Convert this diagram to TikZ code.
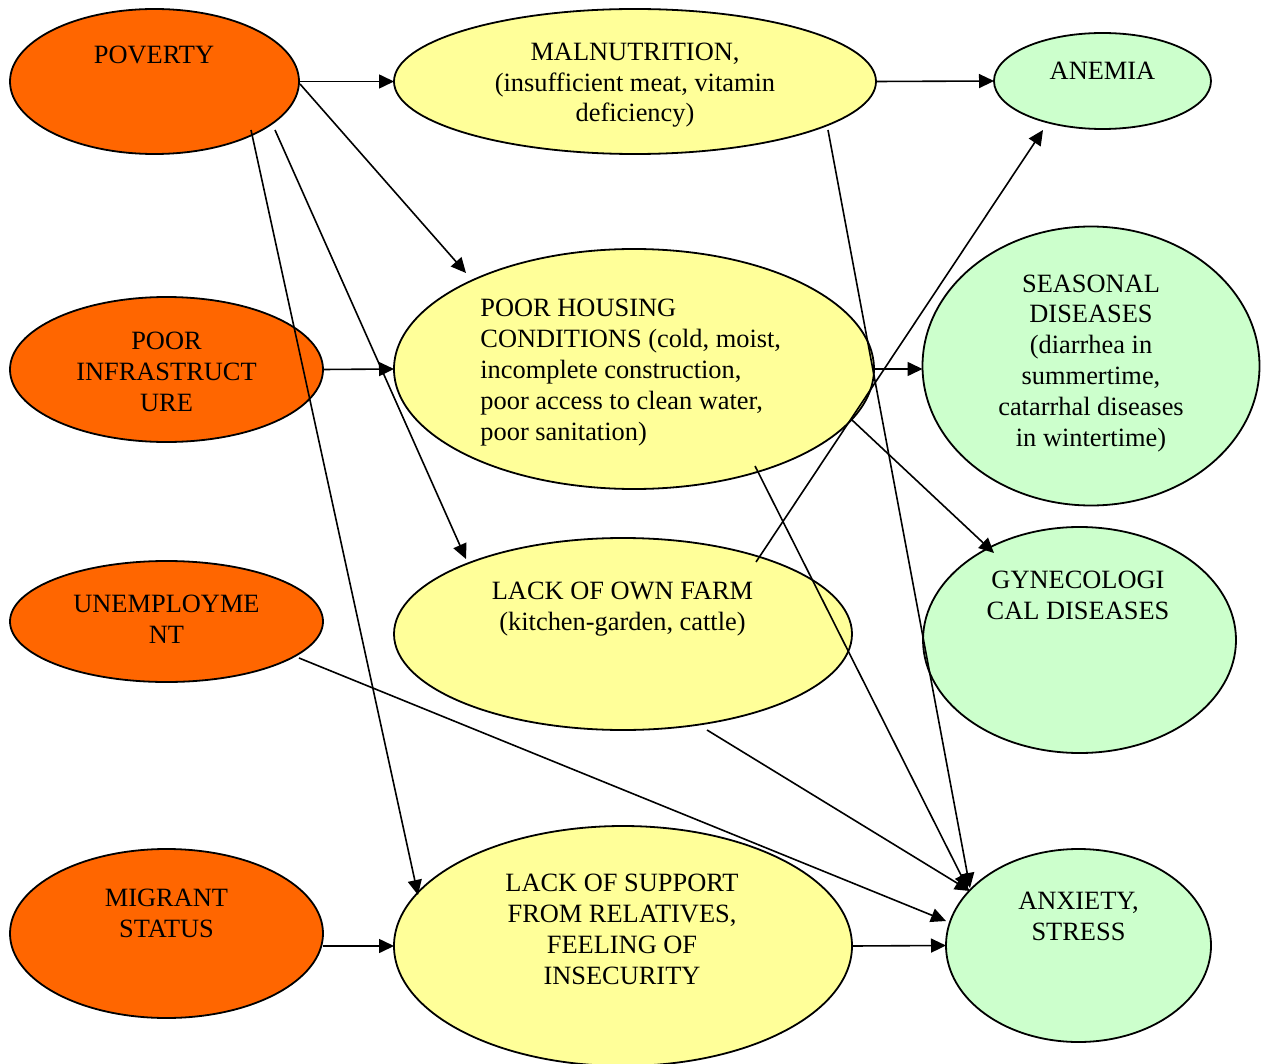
\documentclass[tikz,border=0pt]{standalone}
\usepackage{fontspec}
\setmainfont{Liberation Serif}
\usetikzlibrary{shapes.geometric,arrows.meta,calc}
\definecolor{causeorange}{HTML}{FF6600}
\definecolor{midyellow}{HTML}{FFFF99}
\definecolor{effectgreen}{HTML}{CCFFCC}

\begin{document}
\begin{tikzpicture}[x=0.5pt,y=-0.5pt,
  oval/.style={ellipse,draw=black,line width=0.9pt,inner sep=0pt,outer sep=0pt},
  cause/.style={oval,fill=causeorange},
  factor/.style={oval,fill=midyellow},
  effect/.style={oval,fill=effectgreen},
  lbl/.style={inner sep=0pt,align=center,anchor=base,font=\fontsize{13.2}{15.4}\selectfont},
  link/.style={line width=0.8pt,-{Triangle[length=7.5pt,width=7pt]}}]
\useasboundingbox (0,0) rectangle (1269,1064);

% root causes
\node[cause,minimum width=144.5pt,minimum height=72.5pt] (pov) at (154.5,81.5) {};
\node[cause,minimum width=156.5pt,minimum height=72.5pt] (inf) at (166.5,369.5) {};
\node[cause,minimum width=156.5pt,minimum height=60.5pt] (une) at (166.5,621.5) {};
\node[cause,minimum width=156.5pt,minimum height=84.5pt] (mig) at (166.5,933.5) {};

% intermediate factors
\node[factor,minimum width=241pt,minimum height=72.5pt] (mal) at (635,81.5) {};
\node[factor,minimum width=240pt,minimum height=120pt] (hous) at (634,369) {};
\node[factor,minimum width=229pt,minimum height=96pt] (farm) at (623,634) {};
\node[factor,minimum width=229pt,minimum height=120pt] (sup) at (623,946) {};

% health effects
\node[effect,minimum width=108.5pt,minimum height=48pt] (ane) at (1102.5,81) {};
\node[effect,minimum width=168.5pt,minimum height=139.5pt] (seas) at (1091,366) {};
\node[effect,minimum width=156.5pt,minimum height=113pt] (gyn) at (1079.5,640) {};
\node[effect,minimum width=132.5pt,minimum height=96.5pt] (anx) at (1078.5,945.5) {};

% labels (anchored at the baseline of their last line)
\node[lbl] (tpov) at (154,64) {POVERTY};
\node[lbl] (tinf) at (166.5,411) {POOR\\INFRASTRUCT\\URE};
\node[lbl] (tune) at (166.5,643) {UNEMPLOYME\\NT};
\node[lbl] (tmig) at (166.5,937) {MIGRANT\\STATUS};
\node[lbl] (tmal) at (635,122) {MALNUTRITION,\\(insufficient meat, vitamin\\deficiency)};
\node[lbl,align=left,anchor=base west] (thous) at (480,440) {POOR HOUSING\\CONDITIONS (cold, moist,\\incomplete construction,\\poor access to clean water,\\poor sanitation)};
\node[lbl] (tfarm) at (622.5,630) {LACK OF OWN FARM\\(kitchen-garden, cattle)};
\node[lbl] (tsup) at (622,984) {LACK OF SUPPORT\\FROM RELATIVES,\\FEELING OF\\INSECURITY};
\node[lbl] (tane) at (1102.5,80) {ANEMIA};
\node[lbl] (tseas) at (1091,446) {SEASONAL\\DISEASES\\(diarrhea in\\summertime,\\catarrhal diseases\\in wintertime)};
\node[lbl] (tgyn) at (1078,619) {GYNECOLOGI\\CAL DISEASES};
\node[lbl] (tanx) at (1078.5,940) {ANXIETY,\\STRESS};

% connectors
\draw[link] (pov.east) -- (mal.west);
\draw[link] (mal.east) -- (ane.west);
\draw[link] ($(pov.center)+(145.5,2.5)$) -- ($(hous.center)+(-168,-96)$);
\draw[link] ($(pov.center)+(120.5,48.5)$) -- ($(farm.center)+(-157,-75)$);
\draw[link] ($(pov.center)+(96.5,48.5)$) -- ($(sup.center)+(-205,-51)$);
\draw[link] (inf.east) -- (hous.west);
\draw[link] (hous.east) -- (hous.east -| seas.west);
\draw[link] ($(hous.center)+(218,51)$) -- ($(gyn.center)+(-85.5,-87)$);
\draw[link] ($(farm.center)+(133,-72)$) -- ($(ane.center)+(-59.5,49)$);
\draw[link] ($(mal.center)+(193,48.5)$) -- ($(anx.center)+(-108.5,-57.5)$);
\draw[link] ($(hous.center)+(121,97)$) -- ($(anx.center)+(-110.5,-56.5)$);
\draw[link] ($(farm.center)+(84,96)$) -- ($(anx.center)+(-108.5,-54.5)$);
\draw[link] ($(une.center)+(132.5,36.5)$) -- ($(anx.center)+(-132.5,-24.5)$);
\draw[link] (sup.west -| mig.east) -- (sup.west);
\draw[link] (sup.east) -- (anx.west);
\end{tikzpicture}
\end{document}
